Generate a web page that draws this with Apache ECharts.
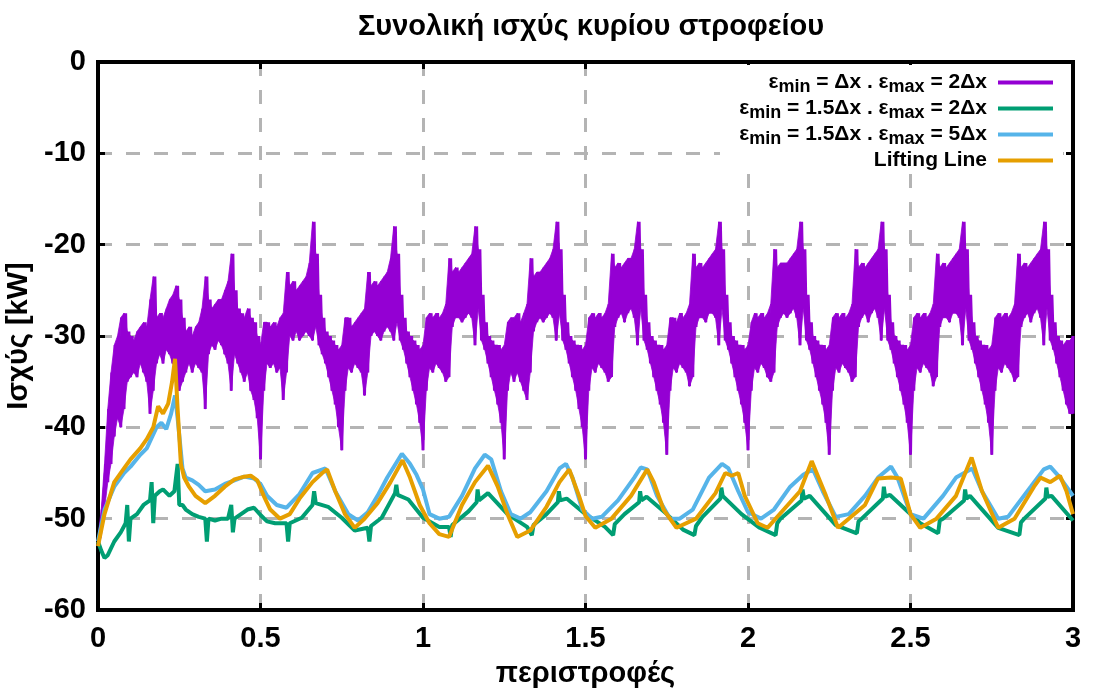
<!DOCTYPE html>
<html>
<head>
<meta charset="utf-8">
<script src="https://cdn.jsdelivr.net/npm/echarts@6/dist/echarts.min.js"></script>
<style>
html,body{margin:0;padding:0;background:#fff;}
#chart{width:1093px;height:696px;}
</style>
</head>
<body>
<div id="chart"></div>
<script>
// ---- tick labels / axis settings ----
const xTicks = [0, 0.5, 1, 1.5, 2, 2.5, 3];
const yTicks = [-60, -50, -40, -30, -20, -10, 0];

// ---- legend texts (plain + subscripts) ----
const legendParts = [
  ['ε', 'min', ' = Δx . ε', 'max', ' = 2Δx'],
  ['ε', 'min', ' = 1.5Δx . ε', 'max', ' = 2Δx'],
  ['ε', 'min', ' = 1.5Δx . ε', 'max', ' = 5Δx'],
  ['Lifting Line']
];
const seriesNames = legendParts.map(p => p.join(''));
const seriesColors = ['#9400d3', '#009e73', '#56b4e9', '#e69f00'];

// ---- purple series: band read as upper / lower envelope, step 0.01 rev ----
const purpleStep = 0.01;
const purpleUpper = [
  -52,-49,-44,-38,-34,-31,-30,-28,-27.5,-29.5,
  -30,-30.5,-29.5,-29,-28.5,-29,-26,-23.5,-28,-27.5,
  -28,-27,-26,-25.5,-24.5,-26,-28,-29.5,-29,-30,
  -29,-28.5,-27,-23.5,-26,-27,-26.5,-26,-26,-25,
  -24,-21,-25,-27,-27.5,-28,-27,-28,-28.5,-30,
  -31,-28.5,-28.5,-29,-28.5,-29,-28,-27.5,-23,-24.5,-24,-25,-24.5,-24,-23.5,-22,-17.5,-21,-25.5,-28,-29.5,-30,-30.5,-31,-31.5,
  -31,-28,-28,-29,-28.5,-28,-27.5,-27,-23,-24.5,-24,-24.5,-24,-23.5,-23,-21.5,-18,-21,-25.5,-28,-29.5,-30,-30.5,-31,-31.5,
  -31,-28,-27.5,-28,-27.5,-28,-27.5,-26.5,-21.5,-23,-22.5,-23,-22.5,-22,-21.5,-21,-18,-20.5,-25.5,-28.5,-30,-30.5,-31,-31,-31.5,
  -31,-28.5,-28,-28,-27.5,-28.5,-27.5,-26.5,-21.5,-23.5,-23,-23,-22.5,-22,-21.5,-20.5,-17.5,-20.5,-25.5,-28.5,-30,-30.5,-31,-31,-31.5,
  -31,-28,-27.5,-28,-27.5,-28,-27.5,-26.5,-21,-22.5,-22,-22.5,-22,-21.5,-21.5,-20.5,-17.5,-20.5,-25.5,-28.5,-30,-30.5,-31,-31,-31.5,
  -31,-28,-28,-28.5,-27.5,-28,-27.5,-26.5,-21,-22.5,-22,-22.5,-22,-21.5,-21,-20.5,-17.5,-20.5,-25.5,-28.5,-30,-30.5,-31,-31,-31.5,
  -31,-28.5,-27.5,-28,-27.5,-28,-27.5,-26.5,-20.5,-22.5,-22,-22,-22,-21.5,-21,-20.5,-17.5,-20.5,-25.5,-28.5,-30,-30.5,-31,-31,-31.5,
  -31,-28,-27.5,-28,-27.5,-28,-27.5,-26.5,-20.5,-22.5,-22,-22.5,-22,-21.5,-21,-20.5,-17.5,-20.5,-25.5,-28.5,-30,-30.5,-31,-31,-31.5,
  -31,-28,-27.5,-28,-27.5,-28,-27.5,-26.5,-21,-22.5,-22,-22.5,-22,-21.5,-21,-20.5,-17.5,-20.5,-25.5,-28.5,-30,-30.5,-31,-31,-31.5,
  -31,-28,-27.5,-28,-27.5,-28,-27.5,-26.5,-21,-22.5,-22,-22.5,-22,-21.5,-21,-20.5,-17.5,-20.5,-25.5,-28.5,-30,-30.5,-31,-30.5,-30.5,
  -30
];
const purpleLower = [
  -53,-52,-49,-46,-44,-41,-39,-40,-38,-35,
  -34.5,-34,-34.5,-33,-34,-35,-38.5,-36,-33,-32,
  -33,-31.5,-32,-33,-34,-36,-35,-34,-33,-34,
  -33,-33.5,-34,-38,-32,-31,-31.5,-30.5,-31,-32,
  -33,-36,-32,-33,-34,-35,-34,-36,-37,-39,
  -43.5,-36,-33,-33.5,-33,-34,-33.5,-37,-34,-30,-30.5,-29.5,-30.5,-30,-29.5,-30,-30.5,-29,-31,-32,-33,-34.5,-36,-37.5,-40,
  -42.5,-36,-33.5,-34,-33,-33.5,-34,-36.5,-34,-30,-29.5,-30,-30.5,-29.5,-29,-29.5,-30.5,-28.5,-30.5,-31.5,-33,-34.5,-36,-37.5,-39.5,
  -42.5,-36,-33.5,-34,-33,-33.5,-34,-35,-34.5,-29,-28,-28,-28.5,-28,-27.5,-28,-31,-27,-30.5,-31.5,-33,-34.5,-36,-37.5,-39.5,
  -43.5,-36,-34,-35,-34,-35,-36,-37,-34,-29.5,-28.5,-28,-28.5,-28,-27.5,-28,-30.5,-27.5,-30.5,-31.5,-33,-34.5,-36,-38,-40,
  -43.5,-36,-33.5,-34,-33,-33.5,-34,-35,-34.5,-29,-28,-27.5,-28.5,-27.5,-27,-28,-31,-27,-30.5,-31.5,-33,-34.5,-36,-37.5,-39.5,
  -43,-36,-33.5,-34,-33,-33.5,-34,-35.5,-34.5,-29,-28,-28,-28.5,-27.5,-27.5,-28,-31,-27,-30.5,-31.5,-33,-34.5,-36,-37.5,-39.5,
  -42.5,-36,-33.5,-34,-33,-33.5,-34.5,-35,-34,-29,-28,-27.5,-28,-27.5,-27,-28,-31,-27,-30.5,-31.5,-33,-34.5,-36,-37.5,-39.5,
  -43,-36,-33.5,-34,-33,-33.5,-34,-35,-34.5,-29,-28,-27.5,-28.5,-27.5,-27,-28,-30.5,-27,-30.5,-31.5,-33,-34.5,-36,-37.5,-39.5,
  -43,-36,-33.5,-34,-33,-33.5,-34,-35.5,-34.5,-29,-28,-28,-28.5,-27.5,-27.5,-28,-31,-27,-30.5,-31.5,-33,-34.5,-36,-37.5,-39.5,
  -43,-36,-33.5,-34,-33,-33.5,-34,-35,-34.5,-29,-28,-27.5,-28.5,-27.5,-27,-28,-31,-27,-30.5,-31.5,-33,-34.5,-36,-37.5,-38.5,
  -38.5
];

// ---- green: eps_min = 1.5dx, eps_max = 2dx ----
const greenData = [
  [0,-52.5],[0.01,-53.5],[0.02,-54.3],[0.03,-54],[0.05,-52.5],[0.07,-51.5],[0.085,-50.5],[0.09,-48.5],[0.095,-52.5],[0.1,-50],
  [0.12,-49.5],[0.14,-48.5],[0.16,-48],[0.165,-46],[0.17,-50.5],[0.175,-47.5],[0.19,-47],[0.2,-46.8],[0.22,-47.5],[0.235,-47],
  [0.245,-44],[0.25,-48.5],[0.26,-48.5],[0.27,-49],[0.29,-49.5],[0.31,-49.8],[0.33,-50],[0.335,-52.5],[0.34,-50],[0.36,-50.2],
  [0.38,-50],[0.4,-50],[0.41,-48.5],[0.415,-51.5],[0.42,-50],[0.44,-49.5],[0.46,-49],[0.48,-48.8],[0.5,-49.6],[0.52,-50.3],
  [0.545,-50.5],[0.58,-50.5],[0.585,-52.5],[0.59,-50.5],[0.627,-49.9],[0.66,-48.5],[0.665,-47],[0.67,-48.3],[0.708,-48.7],[0.75,-49.9],
  [0.79,-51.3],[0.83,-51],[0.835,-52.5],[0.84,-50.8],[0.873,-49.9],[0.914,-47.2],[0.918,-46.3],[0.922,-47.4],[0.955,-47.9],[1.0,-49.9],
  [1.05,-50.9],[1.08,-50.9],[1.085,-52],[1.09,-50.7],[1.14,-49.2],[1.165,-48.2],[1.168,-46.8],[1.172,-48],[1.2,-47.2],[1.26,-49.5],
  [1.32,-50.9],[1.335,-51.8],[1.34,-50.7],[1.38,-49.5],[1.415,-48.2],[1.418,-47],[1.422,-48],[1.442,-47.8],[1.5,-49.5],[1.56,-50.9],
  [1.585,-51.8],[1.59,-50.6],[1.62,-49.5],[1.665,-48.2],[1.668,-47],[1.672,-48],[1.688,-47.6],[1.75,-49.5],[1.8,-51.2],[1.835,-51.8],
  [1.84,-50.8],[1.86,-49.8],[1.915,-47.8],[1.918,-46.6],[1.922,-47.5],[1.98,-49.5],[2.036,-51],[2.085,-51.8],[2.09,-50.5],[2.1,-50],
  [2.165,-48],[2.168,-46.8],[2.172,-47.8],[2.19,-47.5],[2.27,-50.7],[2.335,-51.6],[2.34,-50.3],[2.35,-50],[2.415,-47.8],[2.418,-46.5],
  [2.422,-47.6],[2.437,-47.4],[2.53,-50.5],[2.585,-51.6],[2.59,-50.2],[2.6,-50],[2.665,-48],[2.668,-46.8],[2.672,-47.8],[2.683,-47.5],
  [2.77,-51],[2.835,-51.8],[2.84,-50.4],[2.85,-50],[2.915,-47.8],[2.918,-46.6],[2.922,-47.6],[2.934,-47.5],[3.0,-50.2]
];

// ---- light blue: eps_min = 1.5dx, eps_max = 5dx ----
const blueData = [
  [0,-52.5],[0.02,-49],[0.05,-46.5],[0.08,-45],[0.1,-44.3],[0.13,-43],[0.15,-42.3],[0.18,-40],[0.195,-39.5],[0.21,-40.2],
  [0.225,-38.5],[0.237,-36.5],[0.245,-39],[0.26,-44.5],[0.27,-45.5],[0.29,-45.8],[0.31,-46.3],[0.33,-47],[0.36,-46.8],[0.39,-46.2],
  [0.42,-45.8],[0.45,-45.4],[0.48,-45.6],[0.5,-46.2],[0.52,-47.5],[0.55,-48.5],[0.58,-48.8],[0.62,-47.3],[0.66,-45],[0.7,-44.5],
  [0.73,-47],[0.77,-49.5],[0.8,-50.2],[0.83,-49.3],[0.86,-47.5],[0.89,-45.5],[0.935,-42.9],[0.96,-44],[0.98,-45.2],[1.0,-46.8],
  [1.02,-49.5],[1.05,-50],[1.08,-49.8],[1.12,-47.5],[1.16,-44.5],[1.19,-43],[1.21,-43.5],[1.24,-47],[1.27,-49.5],[1.3,-50],
  [1.33,-49.3],[1.38,-47],[1.42,-44.5],[1.44,-44],[1.46,-45.5],[1.49,-49],[1.52,-50],[1.55,-49.8],[1.6,-48],[1.65,-45.5],
  [1.67,-44.4],[1.69,-44.6],[1.72,-47.5],[1.76,-50],[1.79,-50],[1.83,-49],[1.88,-45.5],[1.92,-44],[1.94,-44.5],[1.97,-47],
  [2.0,-49.3],[2.04,-50],[2.08,-49],[2.13,-46.5],[2.17,-45.2],[2.2,-44.6],[2.23,-47],[2.27,-49.8],[2.31,-49.5],[2.36,-47.5],
  [2.4,-45.5],[2.44,-44.3],[2.46,-45.5],[2.5,-49.5],[2.54,-50],[2.6,-47.5],[2.64,-45.5],[2.69,-44.5],[2.72,-47],[2.77,-50],
  [2.8,-49.8],[2.87,-46.5],[2.91,-44.6],[2.93,-44.3],[2.96,-45.5],[2.99,-47],[3.0,-47.5]
];

// ---- orange: Lifting Line ----
const orangeData = [
  [0,-53],[0.02,-49.5],[0.05,-46],[0.08,-44.5],[0.1,-43.5],[0.13,-42.3],[0.15,-41.3],[0.17,-40],[0.185,-37.7],[0.2,-38.5],
  [0.216,-37.4],[0.228,-35],[0.237,-32.5],[0.245,-38],[0.255,-44],[0.265,-45.5],[0.28,-46.5],[0.3,-47.5],[0.33,-48.3],[0.36,-47.5],
  [0.39,-46.5],[0.42,-45.7],[0.45,-45.4],[0.47,-45.3],[0.49,-45.8],[0.51,-47.5],[0.53,-49],[0.56,-50],[0.59,-49.5],[0.62,-47.8],
  [0.66,-46],[0.69,-45],[0.705,-44.6],[0.73,-47],[0.76,-49.5],[0.79,-51],[0.82,-50],[0.86,-48.3],[0.9,-46],[0.937,-43.6],
  [0.96,-45.5],[0.99,-48.5],[1.02,-50.5],[1.05,-51.7],[1.08,-52],[1.12,-48.5],[1.16,-46],[1.2,-44.2],[1.23,-46.5],[1.26,-49.5],
  [1.29,-52],[1.33,-51.3],[1.38,-48.7],[1.42,-46],[1.45,-44.6],[1.48,-47.5],[1.5,-49.7],[1.53,-51],[1.58,-50],[1.64,-47.5],
  [1.69,-44.6],[1.71,-46],[1.74,-49],[1.78,-51],[1.84,-50],[1.9,-47.2],[1.93,-45],[1.95,-45.3],[1.97,-45],[1.99,-47.5],
  [2.03,-50.5],[2.06,-51],[2.11,-49],[2.16,-47],[2.196,-43.7],[2.24,-47.5],[2.277,-51],[2.31,-50],[2.36,-48.5],[2.4,-45.6],
  [2.44,-45.5],[2.47,-45.6],[2.5,-49.5],[2.53,-51],[2.58,-50],[2.64,-47.5],[2.688,-43.3],[2.72,-47],[2.77,-51],[2.82,-50],
  [2.88,-46.5],[2.9,-45.5],[2.93,-46],[2.96,-45.3],[2.98,-47],[3.0,-49.5]
];

// build the zig-zag line and the filled band for the purple series from the two envelopes
const purpleData = [];
const bandRows = [];
for (let i = 0; i < purpleUpper.length; i++) {
  const x = i * purpleStep;
  purpleData.push([x, purpleLower[i]]);
  const xh = Math.min(x + purpleStep / 2, 3);
  purpleData.push([xh, purpleUpper[i]]);
  bandRows.push([x, purpleLower[i], purpleUpper[i]]);
}

const FONT = 'Liberation Sans, Arial, sans-serif';
const chart = echarts.init(document.getElementById('chart'), null, {renderer: 'canvas'});

const gridDash = {type: [14, 14], color: '#b4b4b4', width: 3};
const tickStyle = {inside: true, length: 7, lineStyle: {color: '#000', width: 3}};
const frameLine = {show: true, onZero: false, lineStyle: {color: '#000', width: 4}};

const legends = legendParts.map((parts, i) => ({
  data: [seriesNames[i]],
  right: 40,
  top: 72 + i * 26,
  orient: 'vertical',
  align: 'right',
  padding: 0,
  itemWidth: 55,
  itemHeight: 4,
  icon: 'rect',
  selectedMode: false,
  formatter: () => parts.map((p, j) => (j % 2 ? '{s|' + p + '}' : '{m|' + p + '}')).join(''),
  textStyle: {
    padding: [0, 6, 0, 0],
    rich: {
      m: {fontSize: 21, fontWeight: 'bold', fontFamily: FONT, color: '#000', lineHeight: 28, verticalAlign: 'middle'},
      s: {fontSize: 18, fontWeight: 'bold', fontFamily: FONT, color: '#000', lineHeight: 12, verticalAlign: 'bottom'}
    }
  }
}));

const mk = (name, data, color, width) => ({
  name, type: 'line', data, showSymbol: false, symbol: 'none',
  lineStyle: {color, width}, itemStyle: {color},
  xAxisIndex: 0, yAxisIndex: 0, animation: false, silent: true, clip: true
});

const bandSeries = {
  name: 'purpleBand', type: 'custom', data: bandRows, silent: true, animation: false, clip: true,
  encode: {x: 0, y: [1, 2]},
  renderItem: (params, api) => {
    const i = params.dataIndex;
    if (i >= bandRows.length - 1) return null;
    const a = bandRows[i], b = bandRows[i + 1];
    const pts = [api.coord([a[0], a[1]]), api.coord([a[0], a[2]]), api.coord([b[0], b[2]]), api.coord([b[0], b[1]])];
    return {type: 'polygon', shape: {points: pts}, style: {fill: seriesColors[0], stroke: seriesColors[0], lineWidth: 0.8}};
  }
};

chart.setOption({
  backgroundColor: '#fff',
  animation: false,
  title: {
    text: 'Συνολική ισχύς κυρίου στροφείου',
    left: 586, top: 7, textAlign: 'center',
    textStyle: {fontFamily: FONT, fontWeight: 'bold', fontSize: 29, color: '#000'}
  },
  grid: {left: 98, right: 20, top: 62, bottom: 86, outerBoundsMode: 'none', containLabel: false,
         show: true, borderColor: '#000', borderWidth: 4, backgroundColor: 'transparent'},
  legend: legends,
  graphic: [{type: 'rect', z: 3, shape: {x: 720, y: 65, width: 343, height: 103}, style: {fill: '#fff'}}],
  xAxis: [
    {type: 'value', min: xTicks[0], max: xTicks[xTicks.length - 1], interval: 0.5, position: 'bottom',
     name: 'περιστροφές', nameLocation: 'middle', nameGap: 49,
     nameTextStyle: {fontFamily: FONT, fontWeight: 'bold', fontSize: 29, color: '#000'},
     axisLine: frameLine,
     axisTick: tickStyle,
     axisLabel: {fontFamily: FONT, fontWeight: 'bold', fontSize: 29, color: '#000', margin: 14},
     splitLine: {show: true, showMinLine: false, showMaxLine: false, lineStyle: gridDash}},
    {type: 'value', min: xTicks[0], max: xTicks[xTicks.length - 1], interval: 0.5, position: 'top',
     axisLine: frameLine, axisTick: tickStyle, axisLabel: {show: false}, splitLine: {show: false}}
  ],
  yAxis: [
    {type: 'value', min: yTicks[0], max: yTicks[yTicks.length - 1], interval: 10, position: 'left',
     name: 'Ισχύς [kW]', nameLocation: 'middle', nameGap: 62, nameRotate: 90,
     nameTextStyle: {fontFamily: FONT, fontWeight: 'bold', fontSize: 29, color: '#000'},
     axisLine: frameLine,
     axisTick: tickStyle,
     axisLabel: {fontFamily: FONT, fontWeight: 'bold', fontSize: 29, color: '#000', margin: 12},
     splitLine: {show: true, showMinLine: false, showMaxLine: false, lineStyle: gridDash}},
    {type: 'value', min: yTicks[0], max: yTicks[yTicks.length - 1], interval: 10, position: 'right',
     axisLine: frameLine, axisTick: tickStyle, axisLabel: {show: false}, splitLine: {show: false}}
  ],
  series: [
    bandSeries,
    mk(seriesNames[0], purpleData, seriesColors[0], 3),
    mk(seriesNames[1], greenData, seriesColors[1], 4),
    mk(seriesNames[2], blueData, seriesColors[2], 4),
    mk(seriesNames[3], orangeData, seriesColors[3], 4)
  ]
});
</script>
</body>
</html>
